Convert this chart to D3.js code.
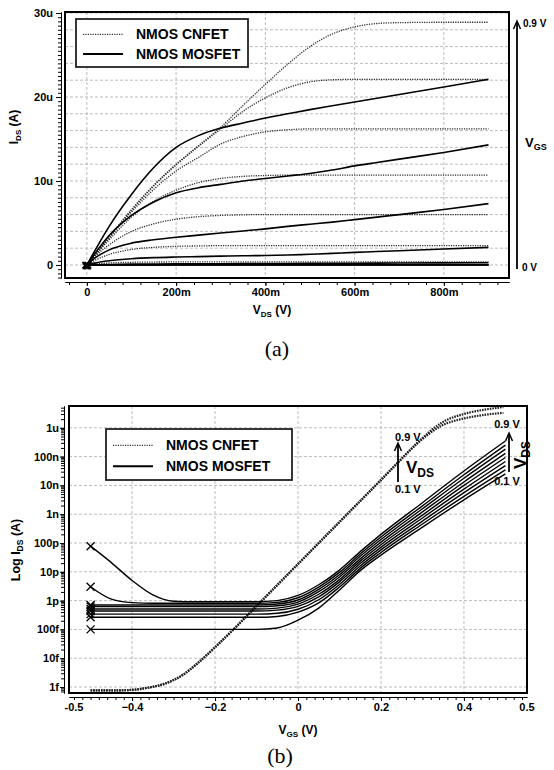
<!DOCTYPE html>
<html>
<head>
<meta charset="utf-8">
<script src="https://cdn.jsdelivr.net/npm/d3@7"></script>
<style>
  body { margin: 0; background: #fff; }
  svg { display: block; font-family: "Liberation Sans", Arial, sans-serif; }
  .tick text { font-weight: bold; font-size: 11px; fill: #000; }
  .tick line, .domain { stroke: #000; }
</style>
</head>
<body>
<svg id="chart" width="554" height="770"></svg>
<script>
// ---------- (a) output characteristics, Ids in uA ----------
const vdsA = [0, 0.02, 0.05, 0.1, 0.15, 0.2, 0.25, 0.3, 0.35, 0.4, 0.45, 0.5, 0.55, 0.6, 0.65, 0.7, 0.8, 0.9];

const cnfetOut = [
  { vgs: 0.9, ids: [0, 1.3, 3.3, 6.6, 9.5, 12.0, 14.2, 16.4, 19.0, 21.5, 23.9, 26.0, 27.5, 28.35, 28.75, 28.85, 28.9, 28.9] },
  { vgs: 0.8, ids: [0, 1.3, 3.3, 6.5, 9.4, 11.9, 14.1, 16.2, 18.3, 19.9, 21.1, 21.8, 22.05, 22.1, 22.1, 22.1, 22.1, 22.1] },
  { vgs: 0.7, ids: [0, 1.3, 3.2, 6.3, 9.0, 11.2, 12.8, 14.4, 15.3, 15.85, 16.1, 16.2, 16.2, 16.2, 16.2, 16.2, 16.2, 16.2] },
  { vgs: 0.6, ids: [0, 1.25, 3.0, 5.7, 7.6, 8.9, 9.8, 10.3, 10.55, 10.65, 10.7, 10.7, 10.7, 10.7, 10.7, 10.7, 10.7, 10.7] },
  { vgs: 0.5, ids: [0, 1.1, 2.4, 4.0, 4.9, 5.45, 5.75, 5.9, 5.97, 6.0, 6.0, 6.0, 6.0, 6.0, 6.0, 6.0, 6.0, 6.0] },
  { vgs: 0.4, ids: [0, 0.6, 1.25, 1.85, 2.1, 2.22, 2.27, 2.3, 2.3, 2.3, 2.3, 2.3, 2.3, 2.3, 2.3, 2.3, 2.3, 2.3] },
  { vgs: 0.3, ids: [0, 0.12, 0.24, 0.32, 0.35, 0.36, 0.36, 0.36, 0.36, 0.36, 0.36, 0.36, 0.36, 0.36, 0.36, 0.36, 0.36, 0.36] },
  { vgs: 0.2, ids: [0, 0.02, 0.04, 0.05, 0.05, 0.05, 0.05, 0.05, 0.05, 0.05, 0.05, 0.05, 0.05, 0.05, 0.05, 0.05, 0.05, 0.05] },
  { vgs: 0.1, ids: [0, 0, 0, 0, 0, 0, 0, 0, 0, 0, 0, 0, 0, 0, 0, 0, 0, 0] },
  { vgs: 0.0, ids: [0, 0, 0, 0, 0, 0, 0, 0, 0, 0, 0, 0, 0, 0, 0, 0, 0, 0] }
];

const mosfetOut = [
  { vgs: 0.9, ids: [0, 1.9, 4.6, 8.4, 11.6, 14.0, 15.4, 16.3, 16.9, 17.5, 18.0, 18.5, 18.95, 19.4, 19.85, 20.3, 21.2, 22.1] },
  { vgs: 0.8, ids: [0, 1.5, 3.5, 5.9, 7.5, 8.6, 9.2, 9.6, 10.0, 10.3, 10.6, 10.9, 11.3, 11.8, 12.2, 12.6, 13.4, 14.3] },
  { vgs: 0.7, ids: [0, 0.9, 1.8, 2.6, 3.0, 3.3, 3.55, 3.8, 4.05, 4.3, 4.6, 4.85, 5.1, 5.4, 5.7, 6.0, 6.6, 7.3] },
  { vgs: 0.6, ids: [0, 0.25, 0.5, 0.75, 0.88, 0.95, 1.0, 1.05, 1.1, 1.12, 1.18, 1.28, 1.38, 1.5, 1.6, 1.7, 1.9, 2.1] },
  { vgs: 0.5, ids: [0, 0.03, 0.06, 0.1, 0.12, 0.13, 0.14, 0.15, 0.16, 0.17, 0.18, 0.19, 0.2, 0.21, 0.22, 0.23, 0.25, 0.27] },
  { vgs: 0.4, ids: [0, 0, 0.01, 0.01, 0.01, 0.02, 0.02, 0.02, 0.02, 0.02, 0.02, 0.02, 0.02, 0.02, 0.02, 0.02, 0.02, 0.02] },
  { vgs: 0.3, ids: [0, 0, 0, 0, 0, 0, 0, 0, 0, 0, 0, 0, 0, 0, 0, 0, 0, 0] }
];

const xTicksA = [0, 0.2, 0.4, 0.6, 0.8];
const yTicksA = [0, 10, 20, 30];

// ---------- (b) transfer characteristics, log10(Ids / A) ----------
const vgsB = [-0.5, -0.45, -0.4, -0.35, -0.3, -0.25, -0.1, -0.05, 0, 0.05, 0.1, 0.15, 0.2, 0.3, 0.4, 0.5];

const mosfetTrans = [
  { vds: 0.1, logI: [-13.0, -13.0, -13.0, -13.0, -13.0, -13.0, -13.0, -12.95, -12.68, -12.26, -11.63, -10.96, -10.42, -9.45, -8.5, -7.6] },
  { vds: 0.2, logI: [-12.58, -12.58, -12.58, -12.58, -12.58, -12.58, -12.58, -12.55, -12.40, -12.08, -11.53, -10.88, -10.33, -9.34, -8.38, -7.46] },
  { vds: 0.3, logI: [-12.47, -12.47, -12.47, -12.47, -12.47, -12.47, -12.47, -12.44, -12.30, -11.97, -11.44, -10.8, -10.24, -9.24, -8.25, -7.31] },
  { vds: 0.4, logI: [-12.36, -12.36, -12.36, -12.36, -12.36, -12.36, -12.36, -12.33, -12.20, -11.87, -11.35, -10.71, -10.15, -9.13, -8.13, -7.17] },
  { vds: 0.5, logI: [-12.29, -12.29, -12.29, -12.29, -12.29, -12.29, -12.29, -12.26, -12.12, -11.78, -11.27, -10.63, -10.06, -9.03, -8.0, -7.03] },
  { vds: 0.6, logI: [-12.21, -12.21, -12.21, -12.21, -12.21, -12.21, -12.21, -12.18, -12.05, -11.69, -11.18, -10.55, -9.97, -8.92, -7.88, -6.89] },
  { vds: 0.7, logI: [-12.15, -12.15, -12.15, -12.15, -12.15, -12.15, -12.15, -12.12, -11.98, -11.61, -11.1, -10.46, -9.88, -8.81, -7.75, -6.74] },
  { vds: 0.8, logI: [-11.52, -11.95, -12.07, -12.09, -12.09, -12.09, -12.09, -12.06, -11.90, -11.53, -11.02, -10.38, -9.79, -8.71, -7.63, -6.6] },
  { vds: 0.9, logI: [-10.11, -10.68, -11.3, -11.8, -12.02, -12.04, -12.04, -12.0, -11.82, -11.45, -10.94, -10.3, -9.7, -8.6, -7.5, -6.46] }
];

const vgsCnt = [-0.5, -0.45, -0.4, -0.36, -0.32, -0.28, -0.24, -0.2, -0.157, -0.1, -0.05, 0, 0.05, 0.1, 0.15, 0.2, 0.242, 0.287, 0.343, 0.408, 0.45, 0.495];
const cnfetTransHigh = [-15.12, -15.12, -15.1, -15.02, -14.88, -14.6, -14.15, -13.62, -13.02, -12.19, -11.46, -10.73, -10.0, -9.27, -8.54, -7.81, -7.19, -6.53, -5.85, -5.49, -5.37, -5.28];
const cnfetTransLow  = [-15.12, -15.12, -15.1, -15.02, -14.88, -14.6, -14.15, -13.62, -13.02, -12.19, -11.46, -10.73, -10.0, -9.27, -8.54, -7.81, -7.19, -6.55, -5.95, -5.65, -5.55, -5.48];

const xTicksB = [-0.4, -0.2, 0, 0.2, 0.4];
const yTicksB = [1e-15, 1e-14, 1e-13, 1e-12, 1e-11, 1e-10, 1e-9, 1e-8, 1e-7, 1e-6];
const yLabelsB = ['1f', '10f', '100f', '1p', '10p', '100p', '1n', '10n', '100n', '1u'];

const svg = d3.select('#chart');

function gridAndBox(g, x0, x1, y0, y1, xs, ys) {
  g.selectAll(null).data(xs).join('line')
    .attr('x1', d => d).attr('x2', d => d).attr('y1', y0).attr('y2', y1)
    .attr('stroke', '#b4b4b4').attr('stroke-width', 0.9).attr('stroke-dasharray', '3,2');
  g.selectAll(null).data(ys).join('line')
    .attr('x1', x0).attr('x2', x1).attr('y1', d => d).attr('y2', d => d)
    .attr('stroke', '#b4b4b4').attr('stroke-width', 0.9).attr('stroke-dasharray', '3,2');
}

function legend(g, x, y, w, h) {
  g.append('rect').attr('x', x).attr('y', y).attr('width', w).attr('height', h)
    .attr('fill', '#fff').attr('stroke', '#222').attr('stroke-width', 1.8);
  g.append('line').attr('x1', x + 7).attr('x2', x + 47).attr('y1', y + h * 0.32).attr('y2', y + h * 0.32)
    .attr('stroke', '#333').attr('stroke-width', 1.3).attr('stroke-dasharray', '1.2,1.2');
  g.append('line').attr('x1', x + 7).attr('x2', x + 47).attr('y1', y + h * 0.73).attr('y2', y + h * 0.73)
    .attr('stroke', '#000').attr('stroke-width', 2);
  g.append('text').attr('x', x + 60).attr('y', y + h * 0.32 + 5).attr('font-size', 14).attr('font-weight', 'bold').text('NMOS CNFET');
  g.append('text').attr('x', x + 60).attr('y', y + h * 0.73 + 5).attr('font-size', 14).attr('font-weight', 'bold').text('NMOS MOSFET');
}

function subText(g, x, y, main, sub, rest, size, subSize, anchor, rotate) {
  const t = g.append('text').attr('font-weight', 'bold').attr('font-size', size)
    .attr('text-anchor', anchor || 'start');
  if (rotate) t.attr('transform', `translate(${x},${y}) rotate(-90)`);
  else t.attr('x', x).attr('y', y);
  t.append('tspan').text(main);
  t.append('tspan').attr('font-size', subSize).attr('dy', size * 0.25).text(sub);
  if (rest) t.append('tspan').attr('dy', -size * 0.25).text(rest);
  return t;
}

function xMark(g, cx, cy, r) {
  g.append('path').attr('d', `M${cx - r},${cy - r}L${cx + r},${cy + r}M${cx - r},${cy + r}L${cx + r},${cy - r}`)
    .attr('stroke', '#000').attr('stroke-width', 1.3).attr('fill', 'none');
}

// ================= panel (a) =================
const xA = d3.scaleLinear().domain([-0.049, 0.946]).range([65, 509]);
const yA = d3.scaleLinear().domain([-1.55, 30.12]).range([278, 12]);
const ga = svg.append('g');

gridAndBox(ga, 65, 509, 12, 278, xTicksA.map(xA), d3.range(0, 30.1, 2).map(yA));

ga.append('defs').append('clipPath').attr('id', 'clipA')
  .append('rect').attr('x', 65).attr('y', 12).attr('width', 444).attr('height', 266);

const lineA = d3.line().x((d, i) => xA(vdsA[i])).y(d => yA(d)).curve(d3.curveMonotoneX);
const curvesA = ga.append('g').attr('clip-path', 'url(#clipA)');
cnfetOut.forEach(c => {
  curvesA.append('path').attr('d', lineA(c.ids)).attr('fill', 'none')
    .attr('stroke', '#2a2a2a').attr('stroke-width', 1.3).attr('stroke-dasharray', '1.2,1.2');
});
mosfetOut.forEach(c => {
  curvesA.append('path').attr('d', lineA(c.ids)).attr('fill', 'none')
    .attr('stroke', '#000').attr('stroke-width', 1.6);
});
mosfetOut.forEach((c, i) => xMark(ga, xA(0) + (i % 3 - 1) * 1.2, yA(0) + (i % 2) * 1.2, 3));

ga.append('rect').attr('x', 65).attr('y', 12).attr('width', 444).attr('height', 266)
  .attr('fill', 'none').attr('stroke', '#000').attr('stroke-width', 2);

// axes (a)
ga.append('g').attr('transform', 'translate(61,0)')
  .call(d3.axisLeft(yA).tickValues(d3.range(-1.5, 30.01, 0.5)).tickFormat('').tickSize(3).tickSizeOuter(0));
ga.append('g').attr('transform', 'translate(61,0)')
  .call(d3.axisLeft(yA).tickValues(yTicksA).tickFormat(d => d === 0 ? '0' : d + 'u').tickSize(5).tickPadding(3).tickSizeOuter(0));
ga.append('g').attr('transform', 'translate(0,282)')
  .call(d3.axisBottom(xA).tickValues(d3.range(-0.04, 0.93, 0.04)).tickFormat('').tickSize(3).tickSizeOuter(0));
ga.append('g').attr('transform', 'translate(0,282)')
  .call(d3.axisBottom(xA).tickValues(xTicksA).tickFormat(d => d === 0 ? '0' : Math.round(d * 1000) + 'm').tickSize(4).tickPadding(2).tickSizeOuter(0));

legend(ga, 76, 19, 172, 48);

subText(ga, 18, 127, 'I', 'DS', ' (A)', 12, 8, 'middle', true);
subText(ga, 272, 314, 'V', 'DS', ' (V)', 12, 8, 'middle');

// V_GS arrow (a)
ga.append('line').attr('x1', 517).attr('x2', 517).attr('y1', 269).attr('y2', 22)
  .attr('stroke', '#000').attr('stroke-width', 1.8);
ga.append('path').attr('d', 'M513.5,29 L517,21 L520.5,29').attr('fill', 'none').attr('stroke', '#000').attr('stroke-width', 1.5);
ga.append('text').attr('x', 523).attr('y', 27).attr('font-size', 10).attr('font-weight', 'bold').text('0.9 V');
ga.append('text').attr('x', 522).attr('y', 271).attr('font-size', 10).attr('font-weight', 'bold').text('0 V');
subText(ga, 525, 147, 'V', 'GS', null, 13, 9, 'start');

svg.append('text').attr('x', 277).attr('y', 356).attr('text-anchor', 'middle')
  .attr('font-family', '"Liberation Serif", serif').attr('font-size', 22).text('(a)');

// ================= panel (b) =================
const xB = d3.scaleLinear().domain([-0.552, 0.552]).range([69, 527]);
const yB = d3.scaleLog().domain([Math.pow(10, -15.208), Math.pow(10, -5.243)]).range([693, 406]);
const gb = svg.append('g');

gridAndBox(gb, 69, 527, 406, 693, xTicksB.map(xB), yTicksB.map(yB));

gb.append('defs').append('clipPath').attr('id', 'clipB')
  .append('rect').attr('x', 69).attr('y', 406).attr('width', 458).attr('height', 287);
const curvesB = gb.append('g').attr('clip-path', 'url(#clipB)');

const lineCnt = d3.line().x((d, i) => xB(vgsCnt[i])).y(d => yB(Math.pow(10, d))).curve(d3.curveMonotoneX);
[cnfetTransLow, cnfetTransHigh].forEach(arr => {
  curvesB.append('path').attr('d', lineCnt(arr)).attr('fill', 'none')
    .attr('stroke', '#222').attr('stroke-width', 2.2).attr('stroke-dasharray', '1.6,1');
});

const lineMos = d3.line().x((d, i) => xB(vgsB[i])).y(d => yB(Math.pow(10, d))).curve(d3.curveMonotoneX);
mosfetTrans.forEach(c => {
  curvesB.append('path').attr('d', lineMos(c.logI)).attr('fill', 'none')
    .attr('stroke', '#000').attr('stroke-width', 1.4);
  xMark(gb, xB(vgsB[0]), yB(Math.pow(10, c.logI[0])), 4);
});

gb.append('rect').attr('x', 69).attr('y', 406).attr('width', 458).attr('height', 287)
  .attr('fill', 'none').attr('stroke', '#000').attr('stroke-width', 2);

// axes (b)
const minorLog = [];
for (let e = -16; e <= -6; e++) for (let m = 1; m <= 9; m++) {
  const v = m * Math.pow(10, e);
  if (v >= yB.domain()[0] && v <= yB.domain()[1]) minorLog.push(v);
}
gb.append('g').attr('transform', 'translate(64,0)')
  .call(d3.axisLeft(yB).tickValues(minorLog).tickFormat('').tickSize(3).tickSizeOuter(0));
gb.append('g').attr('transform', 'translate(64,0)')
  .call(d3.axisLeft(yB).tickValues(yTicksB).tickFormat((d, i) => yLabelsB[i]).tickSize(4).tickPadding(1).tickSizeOuter(0));
gb.append('g').attr('transform', 'translate(0,697)')
  .call(d3.axisBottom(xB).tickValues(d3.range(-0.54, 0.55, 0.02)).tickFormat('').tickSize(3).tickSizeOuter(0));
gb.append('g').attr('transform', 'translate(0,697)')
  .call(d3.axisBottom(xB).tickValues(xTicksB).tickFormat(d => d === 0 ? '0' : d3.format('.1f')(d)).tickSize(4).tickPadding(2).tickSizeOuter(0));
// axis end labels
gb.append('text').attr('x', 74).attr('y', 711).attr('text-anchor', 'middle').attr('font-size', 11).attr('font-weight', 'bold').text('-0.5');
gb.append('text').attr('x', 527).attr('y', 711).attr('text-anchor', 'middle').attr('font-size', 11).attr('font-weight', 'bold').text('0.5');

legend(gb, 106, 429, 186, 51);

subText(gb, 20, 550, 'Log I', 'DS', ' (A)', 12.5, 8.5, 'middle', true);
subText(gb, 298, 734, 'V', 'GS', ' (V)', 12, 8, 'middle');

// V_DS arrows (b)
gb.append('line').attr('x1', 398).attr('x2', 398).attr('y1', 482).attr('y2', 444)
  .attr('stroke', '#000').attr('stroke-width', 1.8);
gb.append('path').attr('d', 'M394.5,451 L398,443 L401.5,451').attr('fill', 'none').attr('stroke', '#000').attr('stroke-width', 1.5);
gb.append('text').attr('x', 395).attr('y', 441).attr('font-size', 11).attr('font-weight', 'bold').text('0.9 V');
gb.append('text').attr('x', 395).attr('y', 493).attr('font-size', 11).attr('font-weight', 'bold').text('0.1 V');
subText(gb, 406, 473, 'V', 'DS', null, 17, 12, 'start');

gb.append('line').attr('x1', 509).attr('x2', 509).attr('y1', 472).attr('y2', 434)
  .attr('stroke', '#000').attr('stroke-width', 1.8);
gb.append('path').attr('d', 'M505.5,441 L509,433 L512.5,441').attr('fill', 'none').attr('stroke', '#000').attr('stroke-width', 1.5);
gb.append('text').attr('x', 507).attr('y', 428).attr('text-anchor', 'middle').attr('font-size', 11).attr('font-weight', 'bold').text('0.9 V');
gb.append('text').attr('x', 507).attr('y', 485).attr('text-anchor', 'middle').attr('font-size', 11).attr('font-weight', 'bold').text('0.1 V');
subText(gb, 526, 455, 'V', 'DS', null, 17, 12, 'middle', true);

svg.append('text').attr('x', 280).attr('y', 763).attr('text-anchor', 'middle')
  .attr('font-family', '"Liberation Serif", serif').attr('font-size', 22).text('(b)');
</script>
</body>
</html>
